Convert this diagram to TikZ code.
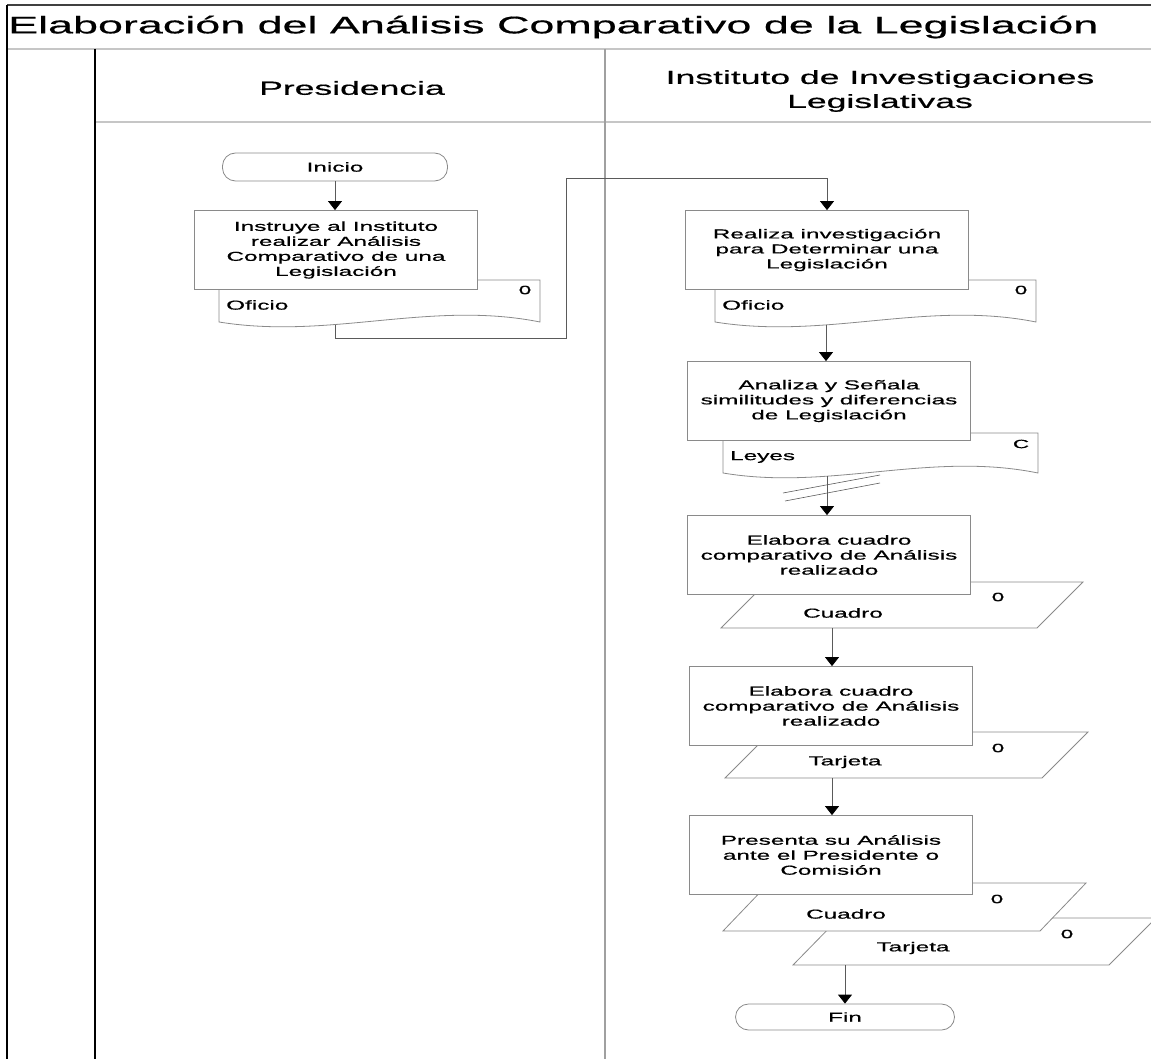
\documentclass[tikz,border=0pt]{standalone}
\usepackage{fontspec}
\setmainfont{Liberation Sans}[FakeStretch=1.87, UprightFeatures={FakeBold=0.6}]
\usetikzlibrary{arrows.meta}
\definecolor{boxgray}{HTML}{8A8A8A}
\definecolor{linegray}{HTML}{5A5A5A}
\definecolor{lanegray}{HTML}{C6C6C6}
\definecolor{divgray}{HTML}{A0A0A0}
\begin{document}
\begin{tikzpicture}[x=1pt,y=-1pt,
  procbox/.style={draw=boxgray,fill=white,line width=0.8pt,minimum width=283pt,minimum height=79pt,inner sep=0pt,align=center,font=\fontsize{13}{15}\selectfont},
  terminal/.style={draw=boxgray,fill=white,line width=0.8pt,rounded corners=13pt,inner sep=0pt,font=\fontsize{13}{15}\selectfont},
  docshape/.style={draw=boxgray,fill=white,line width=0.8pt},
  txt/.style={inner sep=0pt,font=\fontsize{13}{15}\selectfont},
  marklbl/.style={inner sep=0pt,font=\fontsize{12}{14}\selectfont},
  header/.style={inner sep=0pt,align=center,font=\fontsize{19}{24}\selectfont},
  flow/.style={draw=linegray,line width=0.8pt,-{Triangle[width=14pt,length=9pt,color=black]}}
]
\useasboundingbox (0,0) rectangle (1151,1059);
% frame and lanes
\draw[lanegray,line width=2.2pt] (7,49) -- (1151,49);
\draw[lanegray,line width=2.2pt] (95,122) -- (1151,122);
\draw[divgray,line width=1.2pt] (605,49) -- (605,1059);
\draw[black!75,line width=1.4pt] (7,5) -- (1151,5);
\draw[black,line width=2.4pt] (7,5) -- (7,1059);
\draw[black,line width=2.4pt] (95,49) -- (95,1059);
\node[anchor=west,inner sep=0pt,font=\fontsize{24}{28}\selectfont] (title) at (8,27) {Elaboración del Análisis Comparativo de la Legislación};
\node[header] (h1) at (352,88) {Presidencia};
\node[header] (h2) at (880,91) {Instituto de Investigaciones\\Legislativas};

% documents and data shapes (behind boxes)
\draw[docshape] (219,280) -- (540,280) -- (540,322) .. controls (430,300) and (330,340) .. (219,322) -- cycle;
\node[txt,anchor=west] (d1t) at (226,305) {Oficio};
\node[marklbl] (d1m) at (525,290) {0};
\coordinate (d1b) at (335,325);

\draw[docshape] (715,280) -- (1036,280) -- (1036,322) .. controls (926,300) and (826,340) .. (715,322) -- cycle;
\node[txt,anchor=west] (d2t) at (722,305) {Oficio};
\node[marklbl] (d2m) at (1021,290) {0};
\coordinate (d2b) at (826,325);

\draw[docshape] (723,433) -- (1038,433) -- (1038,473) .. controls (930,451) and (830,491) .. (723,473) -- cycle;
\node[txt,anchor=west] (d3t) at (730,457) {Leyes};
\node[marklbl] (d3m) at (1021,444) {C};
\coordinate (d3b) at (827,476);

\draw[docshape] (721,628) -- (767,582) -- (1083,582) -- (1037,628) -- cycle;
\node[txt] (p1t) at (843,613) {Cuadro};
\node[marklbl] (p1m) at (998,597) {0};
\coordinate (p1b) at (832,628);

\draw[docshape] (725,778) -- (771,732) -- (1088,732) -- (1042,778) -- cycle;
\node[txt] (p2t) at (845,762) {Tarjeta};
\node[marklbl] (p2m) at (998,748) {0};
\coordinate (p2b) at (832,778);

\draw[docshape] (793,965) -- (839,918) -- (1156,918) -- (1109,965) -- cycle;
\node[txt] (p4t) at (913,948) {Tarjeta};
\node[marklbl] (p4m) at (1067,934) {0};
\coordinate (p4b) at (845,965);

\draw[docshape] (723,931) -- (769,883) -- (1086,883) -- (1040,931) -- cycle;
\node[txt] (p3t) at (846,914) {Cuadro};
\node[marklbl] (p3m) at (997,899) {0};

% process boxes and terminals
\node[terminal,minimum width=225pt,minimum height=28pt] (ini) at (335,167) {Inicio};
\node[procbox] (b1) at (336,250) {Instruye al Instituto\\realizar Análisis\\Comparativo de una\\Legislación};
\node[procbox] (b2) at (827,250) {Realiza investigación\\para Determinar una\\Legislación};
\node[procbox] (b3) at (829,401) {Analiza y Señala\\similitudes y diferencias\\de Legislación};
\node[procbox] (b4) at (829,555) {Elabora cuadro\\comparativo de Análisis\\realizado};
\node[procbox] (b5) at (831,706) {Elabora cuadro\\comparativo de Análisis\\realizado};
\node[procbox] (b6) at (831,855) {Presenta su Análisis\\ante el Presidente o\\Comisión};
\node[terminal,minimum width=219pt,minimum height=26pt] (fin) at (845,1017) {Fin};

% connectors
\draw[flow] (ini.south) -- (ini.south |- b1.north);
\draw[flow] (d1b) |- (566,338) -- (566,178) -| (b2.north);
\draw[flow] (d2b) -- (d2b |- b3.north);
\draw[flow] (d3b) -- (d3b |- b4.north);
\draw[linegray,line width=0.6pt] (783,493) -- (880,475);
\draw[linegray,line width=0.6pt] (785,501) -- (880,483);
\draw[flow] (p1b) -- (p1b |- b5.north);
\draw[flow] (p2b) -- (p2b |- b6.north);
\draw[flow] (p4b) -- (fin.north);
\end{tikzpicture}
\end{document}
